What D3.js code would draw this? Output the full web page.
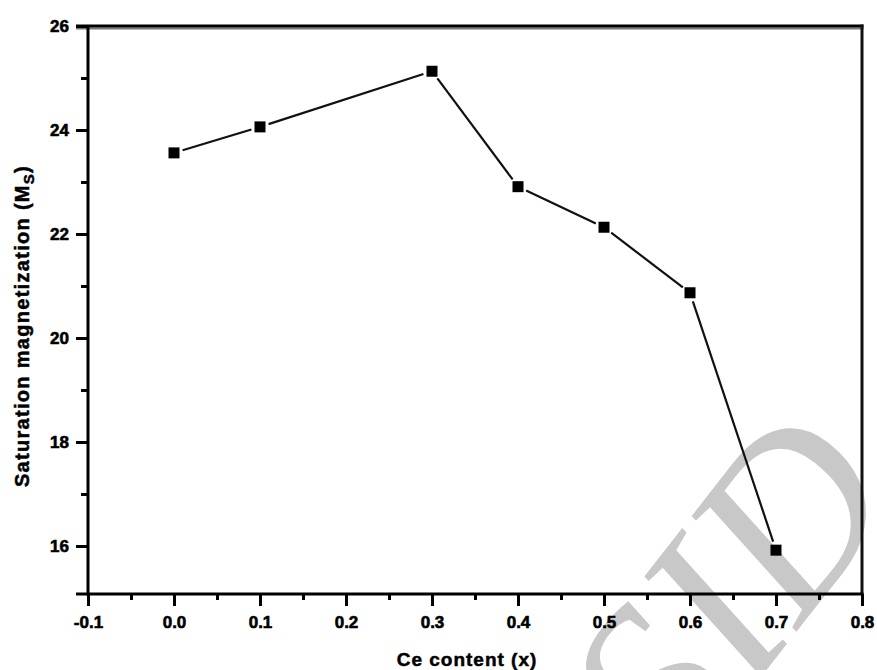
<!DOCTYPE html>
<html>
<head>
<meta charset="utf-8">
<script src="https://cdn.jsdelivr.net/npm/d3@7"></script>
<style>
  html, body { margin: 0; padding: 0; background: #fff; }
  svg { display: block; }
  text { font-family: "Liberation Sans", Arial, sans-serif; font-weight: bold; }
</style>
</head>
<body>
<div id="chart"></div>
<script>
// ---- data ----
const ceContent = [0.0, 0.1, 0.3, 0.4, 0.5, 0.6, 0.7];
const saturation = [23.56, 24.06, 25.13, 22.91, 22.13, 20.87, 15.92];
const xTicks = [-0.1, 0.0, 0.1, 0.2, 0.3, 0.4, 0.5, 0.6, 0.7, 0.8];
const xTickLabels = ["-0.1", "0.0", "0.1", "0.2", "0.3", "0.4", "0.5", "0.6", "0.7", "0.8"];
const xMinorTicks = [-0.05, 0.05, 0.15, 0.25, 0.35, 0.45, 0.55, 0.65, 0.75];
const yTicks = [16, 18, 20, 22, 24, 26];
const yMinorTicks = [17, 19, 21, 23, 25];

const W = 877, H = 670;
const mLeft = 88, mRight = 862, mTop = 26, mBottom = 594;

const svg = d3.select("#chart").append("svg").attr("width", W).attr("height", H);

const x = d3.scaleLinear().domain([-0.1, 0.8]).range([mLeft, mRight]);
const y = d3.scaleLinear().domain([15.077, 26]).range([mBottom, mTop]);

// watermark (behind)
svg.append("text")
  .attr("transform", "translate(790,640) rotate(-52)")
  .attr("text-anchor", "middle")
  .style("font-family", "'Liberation Serif', 'Times New Roman', serif")
  .style("font-style", "italic")
  .style("font-weight", "normal")
  .style("font-size", "235px")
  .attr("fill", "#c8c8c8")
  .text("SID");

// frame: top and right
svg.append("line").attr("x1", mLeft - 12).attr("x2", mRight + 1.5).attr("y1", mTop + 2.5).attr("y2", mTop + 2.5)
  .attr("stroke", "#777").attr("stroke-width", 2);
svg.append("line").attr("x1", mLeft - 12).attr("x2", mRight + 1.5).attr("y1", mTop).attr("y2", mTop)
  .attr("stroke", "#000").attr("stroke-width", 3);
svg.append("line").attr("x1", mRight).attr("x2", mRight).attr("y1", mTop - 1.5).attr("y2", mBottom)
  .attr("stroke", "#111").attr("stroke-width", 3);

// x axis
const xAxis = svg.append("g").attr("transform", `translate(0,${mBottom})`)
  .call(d3.axisBottom(x).tickValues(xTicks).tickSize(12).tickPadding(10)
    .tickFormat((d, i) => xTickLabels[i]));
const xMinor = svg.append("g").attr("transform", `translate(0,${mBottom})`)
  .call(d3.axisBottom(x).tickValues(xMinorTicks).tickSize(6).tickFormat(""));
xMinor.select(".domain").remove();

// y axis
const yAxis = svg.append("g").attr("transform", `translate(${mLeft},0)`)
  .call(d3.axisLeft(y).tickValues(yTicks).tickSize(12).tickPadding(7).tickFormat(d3.format("d")));
const yMinor = svg.append("g").attr("transform", `translate(${mLeft},0)`)
  .call(d3.axisLeft(y).tickValues(yMinorTicks).tickSize(7).tickFormat(""));
yMinor.select(".domain").remove();

[xAxis, yAxis, xMinor, yMinor].forEach(g => {
  g.selectAll(".domain").attr("stroke", "#000").attr("stroke-width", 3);
  g.selectAll(".tick line").attr("stroke", "#000").attr("stroke-width", 3);
  g.selectAll(".tick text").attr("fill", "#000")
    .attr("stroke", "#000").attr("stroke-width", 0.6)
    .style("font-size", "17px").style("font-family", "'Liberation Sans', Arial, sans-serif").style("font-weight", "bold");
});
xAxis.select(".domain").attr("d", `M${mLeft - 12},0H${mRight + 1.5}`);
yAxis.select(".domain").attr("d", `M0,${mTop}V${mBottom + 1.5}`);

// axis titles
svg.append("text")
  .attr("x", 467).attr("y", 666)
  .attr("text-anchor", "middle")
  .attr("stroke", "#000").attr("stroke-width", 0.5)
  .style("font-size", "19px")
  .style("letter-spacing", "1px")
  .text("Ce content (x)");

const yl = svg.append("text")
  .attr("transform", `translate(29,326) rotate(-90)`)
  .attr("text-anchor", "middle")
  .attr("stroke", "#000").attr("stroke-width", 0.5)
  .style("font-size", "20px")
  .style("letter-spacing", "1.3px");
yl.append("tspan").text("Saturation magnetization (M");
yl.append("tspan").attr("dy", 5).style("font-size", "15px").text("S");
yl.append("tspan").attr("dy", -5).text(")");

// line segments with small gaps near markers
const pts = ceContent.map((c, i) => [x(c), y(saturation[i])]);
const gap = 9;
for (let i = 0; i < pts.length - 1; i++) {
  const [x1, y1] = pts[i], [x2, y2] = pts[i + 1];
  const dx = x2 - x1, dy = y2 - y1, L = Math.hypot(dx, dy);
  const ux = dx / L, uy = dy / L;
  svg.append("line")
    .attr("x1", x1 + ux * gap).attr("y1", y1 + uy * gap)
    .attr("x2", x2 - ux * gap).attr("y2", y2 - uy * gap)
    .attr("stroke", "#111").attr("stroke-width", 2.2);
}

// markers
svg.selectAll("rect.mk").data(ceContent).enter().append("rect")
  .attr("class", "mk")
  .attr("x", (d) => x(d) - 5.5)
  .attr("y", (d, i) => y(saturation[i]) - 5.5)
  .attr("width", 11).attr("height", 11)
  .attr("fill", "#000");
</script>
</body>
</html>
